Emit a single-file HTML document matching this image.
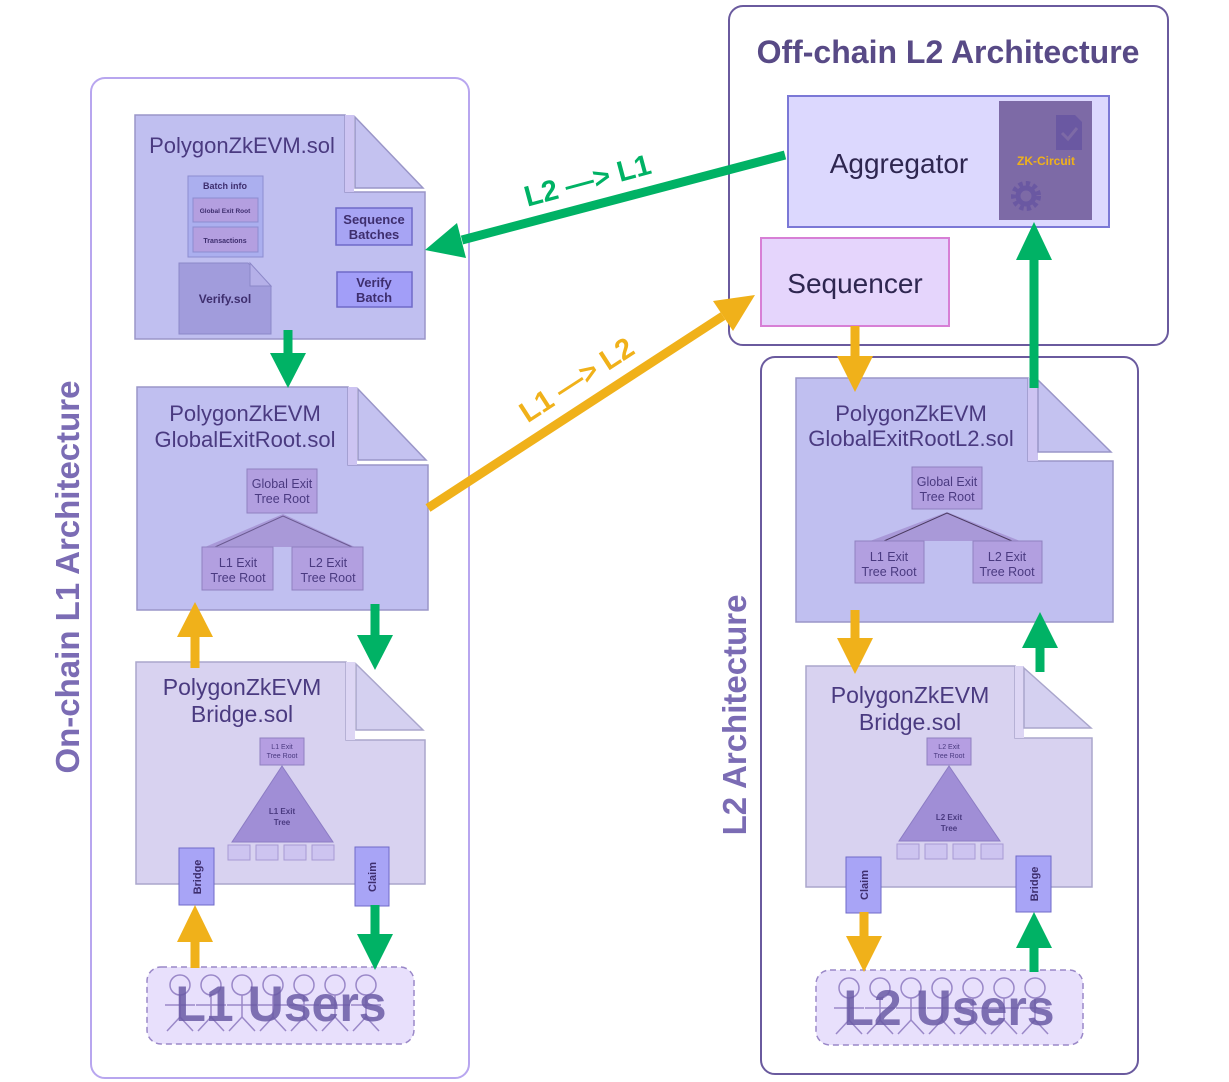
<!DOCTYPE html>
<html><head><meta charset="utf-8"><style>
html,body{margin:0;padding:0;background:#fff;}
svg{display:block;font-family:"Liberation Sans",Arial,sans-serif;}
</style></head><body>
<svg width="1229" height="1082" viewBox="0 0 1229 1082" xmlns="http://www.w3.org/2000/svg">
<defs>
<g id="fig" fill="none" stroke="#9a88c8" stroke-width="1.5">
<circle cx="0" cy="0" r="10"/>
<line x1="0" y1="10" x2="0" y2="32"/>
<line x1="-15" y1="20" x2="15" y2="20"/>
<line x1="0" y1="32" x2="-13" y2="46"/>
<line x1="0" y1="32" x2="13" y2="46"/>
</g>
</defs>
<!-- containers -->
<rect x="91" y="78" width="378" height="1000" rx="14" fill="#fff" stroke="#b8a6ef" stroke-width="2"/>
<rect x="729" y="6" width="439" height="339" rx="14" fill="#fff" stroke="#6a5a9e" stroke-width="2"/>
<rect x="761" y="357" width="377" height="717" rx="14" fill="#fff" stroke="#6a5a9e" stroke-width="2"/>

<text transform="translate(79,577) rotate(-90)" text-anchor="middle" font-size="33" font-weight="bold" fill="#7b6cb4">On-chain L1 Architecture</text>
<text transform="translate(746,715) rotate(-90)" text-anchor="middle" font-size="33" font-weight="bold" fill="#7b6cb4">L2 Architecture</text>
<text x="948" y="63" text-anchor="middle" font-size="32" font-weight="bold" fill="#584a86">Off-chain L2 Architecture</text>

<!-- Doc 1 -->
<g stroke="#9a96c8" stroke-width="1.5">
<path d="M135,115 H345 V192 H425 V339 H135 Z" fill="#c0bff0"/>
<rect x="345" y="115" width="9" height="77" fill="#cdc4f2" stroke="none"/>
<path d="M355,117 L423,188 H355 Z" fill="#c4c2f0"/>
</g>
<text x="242" y="153" text-anchor="middle" font-size="22" fill="#4a3a80">PolygonZkEVM.sol</text>
<rect x="188" y="176" width="75" height="81" fill="#abafef" stroke="#8c8cd0"/>
<text x="225" y="189" text-anchor="middle" font-size="9" font-weight="bold" fill="#3e2e6e">Batch info</text>
<rect x="193" y="198" width="65" height="24" fill="#b49fe0" stroke="#8c8cd0"/>
<text x="225" y="213" text-anchor="middle" font-size="6.5" font-weight="bold" fill="#3e2e6e">Global Exit Root</text>
<rect x="193" y="227" width="65" height="25" fill="#b49fe0" stroke="#8c8cd0"/>
<text x="225" y="243" text-anchor="middle" font-size="7" font-weight="bold" fill="#3e2e6e">Transactions</text>
<path d="M179,263 H248 L271,286 V334 H179 Z" fill="#a19cdc" stroke="#8c88c8"/>
<path d="M250,263 L271,286 H250 Z" fill="#b5b0e8" stroke="#8c88c8"/>
<text x="225" y="303" text-anchor="middle" font-size="12" font-weight="bold" fill="#3e2e6e">Verify.sol</text>
<rect x="336" y="208" width="76" height="37" fill="#a7a4f4" stroke="#6f6ac8" stroke-width="1.5"/>
<text x="374" y="224" text-anchor="middle" font-size="13" font-weight="bold" fill="#3e2e6e">Sequence</text>
<text x="374" y="239" text-anchor="middle" font-size="13" font-weight="bold" fill="#3e2e6e">Batches</text>
<rect x="337" y="272" width="75" height="35" fill="#a29ef8" stroke="#6f6ac8" stroke-width="1.5"/>
<text x="374" y="287" text-anchor="middle" font-size="13" font-weight="bold" fill="#3e2e6e">Verify</text>
<text x="374" y="302" text-anchor="middle" font-size="13" font-weight="bold" fill="#3e2e6e">Batch</text>

<!-- Doc 2 -->
<g stroke="#9a96c8" stroke-width="1.5">
<path d="M137,387 H348 V465 H428 V610 H137 Z" fill="#c0bff0"/>
<rect x="348" y="387" width="9" height="78" fill="#cdc4f2" stroke="none"/>
<path d="M358,389 L426,460 H358 Z" fill="#c4c2f0"/>
</g>
<text x="245" y="421" text-anchor="middle" font-size="22" fill="#4a3a80">PolygonZkEVM</text>
<text x="245" y="447" text-anchor="middle" font-size="22" fill="#4a3a80">GlobalExitRoot.sol</text>
<polygon points="283,514 205,547 355,547" fill="#a999d8"/>
<polyline points="215,547 283,516 352,547" fill="none" stroke="#6a5a90" stroke-width="1"/>
<rect x="247" y="469" width="70" height="44" fill="#b29fe0" stroke="#9080c0"/>
<text x="282" y="488" text-anchor="middle" font-size="12.5" fill="#4a3a80">Global Exit</text>
<text x="282" y="503" text-anchor="middle" font-size="12.5" fill="#4a3a80">Tree Root</text>
<rect x="202" y="547" width="71" height="43" fill="#b29fe0" stroke="#9080c0"/>
<text x="238" y="567" text-anchor="middle" font-size="12.5" fill="#4a3a80">L1 Exit</text>
<text x="238" y="582" text-anchor="middle" font-size="12.5" fill="#4a3a80">Tree Root</text>
<rect x="292" y="547" width="71" height="43" fill="#b29fe0" stroke="#9080c0"/>
<text x="328" y="567" text-anchor="middle" font-size="12.5" fill="#4a3a80">L2 Exit</text>
<text x="328" y="582" text-anchor="middle" font-size="12.5" fill="#4a3a80">Tree Root</text>

<!-- Doc 3 L1 bridge -->
<g stroke="#aaa6cc" stroke-width="1.5">
<path d="M136,662 H346 V740 H425 V884 H136 Z" fill="#d8d2f0"/>
<rect x="346" y="662" width="9" height="78" fill="#ddd6f4" stroke="none"/>
<path d="M356,664 L423,730 H356 Z" fill="#d4d0f0"/>
</g>
<text x="242" y="695" text-anchor="middle" font-size="23" fill="#4a3a80">PolygonZkEVM</text>
<text x="242" y="722" text-anchor="middle" font-size="23" fill="#4a3a80">Bridge.sol</text>
<rect x="260" y="738" width="44" height="27" fill="#b59ee2" stroke="#9080c0"/>
<text x="282" y="749" text-anchor="middle" font-size="7" fill="#4a3a80">L1 Exit</text>
<text x="282" y="758" text-anchor="middle" font-size="7" fill="#4a3a80">Tree Root</text>
<polygon points="282,766 232,842 333,842" fill="#a08ed6" stroke="#8c7cc4"/>
<text x="282" y="814" text-anchor="middle" font-size="8" font-weight="bold" fill="#4a3a80">L1 Exit</text>
<text x="282" y="825" text-anchor="middle" font-size="8" font-weight="bold" fill="#4a3a80">Tree</text>
<g fill="#cdc4f0" stroke="#a89ad4"><rect x="228" y="845" width="22" height="15"/><rect x="256" y="845" width="22" height="15"/><rect x="284" y="845" width="22" height="15"/><rect x="312" y="845" width="22" height="15"/></g>
<rect x="179" y="848" width="35" height="57" fill="#a8a4f6" stroke="#6f6ac8"/>
<text transform="translate(201,877) rotate(-90)" text-anchor="middle" font-size="11" font-weight="bold" fill="#3e2e6e">Bridge</text>
<rect x="355" y="847" width="34" height="59" fill="#a8a4f6" stroke="#6f6ac8"/>
<text transform="translate(376,877) rotate(-90)" text-anchor="middle" font-size="11" font-weight="bold" fill="#3e2e6e">Claim</text>

<!-- Aggregator / Sequencer -->
<rect x="788" y="96" width="321" height="131" fill="#dcd8fe" stroke="#7b78d6" stroke-width="2"/>
<text x="899" y="173" text-anchor="middle" font-size="28" fill="#2e2650">Aggregator</text>
<rect x="999" y="101" width="93" height="119" fill="#7d6aa6"/>
<path d="M1056,115 H1075 L1082,122 V150 H1056 Z" fill="#6a58a2"/>
<polyline points="1062,133 1068,139 1077,128" fill="none" stroke="#7d6aa6" stroke-width="3"/>
<text x="1046" y="165" text-anchor="middle" font-size="12" font-weight="bold" fill="#f0b11a">ZK-Circuit</text>
<circle cx="1026" cy="196" r="12" fill="none" stroke="#6a58a2" stroke-width="6" stroke-dasharray="4 3"/>
<circle cx="1026" cy="196" r="8" fill="none" stroke="#6a58a2" stroke-width="5"/>
<rect x="761" y="238" width="188" height="88" fill="#e5d5fc" stroke="#d77fd5" stroke-width="2"/>
<text x="855" y="293" text-anchor="middle" font-size="28" fill="#2e2650">Sequencer</text>

<!-- Right doc GlobalExitRootL2 -->
<g stroke="#9a96c8" stroke-width="1.5">
<path d="M796,378 H1028 V461 H1113 V622 H796 Z" fill="#c0bff0"/>
<rect x="1028" y="378" width="10" height="83" fill="#cdc4f2" stroke="none"/>
<path d="M1038,380 L1111,452 H1038 Z" fill="#c4c2f0"/>
</g>
<text x="911" y="421" text-anchor="middle" font-size="22" fill="#4a3a80">PolygonZkEVM</text>
<text x="911" y="446" text-anchor="middle" font-size="22" fill="#4a3a80">GlobalExitRootL2.sol</text>
<polygon points="947,512 870,541 1020,541" fill="#a999d8"/>
<polyline points="884,541 947,513 1012,541" fill="none" stroke="#4a3a60" stroke-width="1"/>
<rect x="912" y="467" width="70" height="42" fill="#b29fe0" stroke="#9080c0"/>
<text x="947" y="486" text-anchor="middle" font-size="12.5" fill="#4a3a80">Global Exit</text>
<text x="947" y="501" text-anchor="middle" font-size="12.5" fill="#4a3a80">Tree Root</text>
<rect x="855" y="541" width="69" height="42" fill="#b29fe0" stroke="#9080c0"/>
<text x="889" y="561" text-anchor="middle" font-size="12.5" fill="#4a3a80">L1 Exit</text>
<text x="889" y="576" text-anchor="middle" font-size="12.5" fill="#4a3a80">Tree Root</text>
<rect x="973" y="541" width="69" height="42" fill="#b29fe0" stroke="#9080c0"/>
<text x="1007" y="561" text-anchor="middle" font-size="12.5" fill="#4a3a80">L2 Exit</text>
<text x="1007" y="576" text-anchor="middle" font-size="12.5" fill="#4a3a80">Tree Root</text>

<!-- Right bridge -->
<g stroke="#aaa6cc" stroke-width="1.5">
<path d="M806,666 H1015 V738 H1092 V887 H806 Z" fill="#d8d2f0"/>
<rect x="1015" y="666" width="9" height="72" fill="#ddd6f4" stroke="none"/>
<path d="M1024,668 L1091,728 H1024 Z" fill="#d4d0f0"/>
</g>
<text x="910" y="703" text-anchor="middle" font-size="23" fill="#4a3a80">PolygonZkEVM</text>
<text x="910" y="730" text-anchor="middle" font-size="23" fill="#4a3a80">Bridge.sol</text>
<rect x="927" y="738" width="44" height="27" fill="#b59ee2" stroke="#9080c0"/>
<text x="949" y="749" text-anchor="middle" font-size="7" fill="#4a3a80">L2 Exit</text>
<text x="949" y="758" text-anchor="middle" font-size="7" fill="#4a3a80">Tree Root</text>
<polygon points="949,766 899,841 1000,841" fill="#a08ed6" stroke="#8c7cc4"/>
<text x="949" y="820" text-anchor="middle" font-size="8" font-weight="bold" fill="#4a3a80">L2 Exit</text>
<text x="949" y="831" text-anchor="middle" font-size="8" font-weight="bold" fill="#4a3a80">Tree</text>
<g fill="#cdc4f0" stroke="#a89ad4"><rect x="897" y="844" width="22" height="15"/><rect x="925" y="844" width="22" height="15"/><rect x="953" y="844" width="22" height="15"/><rect x="981" y="844" width="22" height="15"/></g>
<rect x="846" y="857" width="35" height="56" fill="#a8a4f6" stroke="#6f6ac8"/>
<text transform="translate(868,885) rotate(-90)" text-anchor="middle" font-size="11" font-weight="bold" fill="#3e2e6e">Claim</text>
<rect x="1016" y="856" width="35" height="56" fill="#a8a4f6" stroke="#6f6ac8"/>
<text transform="translate(1038,884) rotate(-90)" text-anchor="middle" font-size="11" font-weight="bold" fill="#3e2e6e">Bridge</text>

<!-- Users -->
<rect x="147" y="967" width="267" height="77" rx="14" fill="#e8e0fc" stroke="#9a88c8" stroke-width="1.5" stroke-dasharray="6 4"/>
<use href="#fig" x="180" y="985"/><use href="#fig" x="211" y="985"/><use href="#fig" x="242" y="985"/><use href="#fig" x="273" y="985"/><use href="#fig" x="304" y="985"/><use href="#fig" x="335" y="985"/><use href="#fig" x="366" y="985"/>
<text x="281" y="1021" text-anchor="middle" font-size="50" font-weight="bold" fill="#6a5aa4" fill-opacity="0.85">L1 Users</text>
<rect x="816" y="970" width="267" height="75" rx="14" fill="#e8e0fc" stroke="#9a88c8" stroke-width="1.5" stroke-dasharray="6 4"/>
<use href="#fig" x="849" y="988"/><use href="#fig" x="880" y="988"/><use href="#fig" x="911" y="988"/><use href="#fig" x="942" y="988"/><use href="#fig" x="973" y="988"/><use href="#fig" x="1004" y="988"/><use href="#fig" x="1035" y="988"/>
<text x="949" y="1025" text-anchor="middle" font-size="50" font-weight="bold" fill="#6a5aa4" fill-opacity="0.85">L2 Users</text>

<!-- arrows -->
<g stroke-width="9">
<line x1="785" y1="155" x2="462" y2="240" stroke="#00b265"/>
<line x1="428" y1="508" x2="723" y2="316" stroke="#f0b11a"/>
<line x1="288" y1="330" x2="288" y2="355" stroke="#00b265"/>
<line x1="195" y1="668" x2="195" y2="635" stroke="#f0b11a"/>
<line x1="375" y1="604" x2="375" y2="637" stroke="#00b265"/>
<line x1="195" y1="968" x2="195" y2="940" stroke="#f0b11a"/>
<line x1="375" y1="905" x2="375" y2="935" stroke="#00b265"/>
<line x1="855" y1="326" x2="855" y2="358" stroke="#f0b11a"/>
<line x1="1034" y1="388" x2="1034" y2="258" stroke="#00b265"/>
<line x1="855" y1="610" x2="855" y2="640" stroke="#f0b11a"/>
<line x1="1040" y1="672" x2="1040" y2="646" stroke="#00b265"/>
<line x1="864" y1="912" x2="864" y2="938" stroke="#f0b11a"/>
<line x1="1034" y1="972" x2="1034" y2="946" stroke="#00b265"/>
</g>
<g fill="#00b265">
<polygon points="425,250 466,258 457,223"/>
<polygon points="270,353 306,353 288,388"/>
<polygon points="357,635 393,635 375,670"/>
<polygon points="357,934 393,934 375,970"/>
<polygon points="1016,260 1052,260 1034,222"/>
<polygon points="1022,648 1058,648 1040,612"/>
<polygon points="1016,948 1052,948 1034,912"/>
</g>
<g fill="#f0b11a">
<polygon points="755,295 733,331 713,301"/>
<polygon points="177,637 213,637 195,602"/>
<polygon points="177,942 213,942 195,905"/>
<polygon points="837,356 873,356 855,392"/>
<polygon points="837,638 873,638 855,674"/>
<polygon points="846,936 882,936 864,972"/>
</g>
<text transform="translate(590,190) rotate(-15)" text-anchor="middle" font-size="29" font-weight="bold" fill="#00b265">L2 —&gt; L1</text>
<text transform="translate(582,388) rotate(-33)" text-anchor="middle" font-size="29" font-weight="bold" fill="#f0b11a">L1 —&gt; L2</text>
</svg>
</body></html>
